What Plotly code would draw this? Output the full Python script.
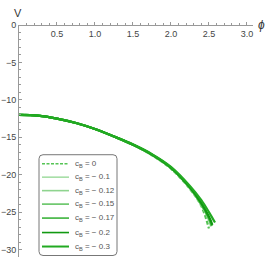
import plotly.graph_objects as go

phi_base = [0.0, 0.25, 0.5, 0.75, 1.0, 1.25, 1.5, 1.75, 2.0, 2.25, 2.4, 2.5]
series = {
    "0":     dict(phi=phi_base, V=[-12.0, -12.1, -12.5, -13.1, -13.9, -14.9, -16.0, -17.4, -19.2, -21.9, -24.2, -27.2]),
    "−0.1":  dict(phi=phi_base + [2.53], V=[-12.0, -12.1, -12.5, -13.1, -13.9, -14.9, -16.0, -17.35, -19.1, -21.8, -24.0, -26.0, -26.9]),
    "−0.12": dict(phi=phi_base + [2.53], V=[-12.0, -12.1, -12.5, -13.1, -13.9, -14.9, -16.0, -17.35, -19.1, -21.8, -24.0, -26.0, -26.9]),
    "−0.15": dict(phi=phi_base + [2.535], V=[-12.0, -12.1, -12.5, -13.1, -13.9, -14.9, -16.0, -17.35, -19.1, -21.75, -23.9, -25.8, -26.8]),
    "−0.17": dict(phi=phi_base + [2.54], V=[-12.0, -12.1, -12.5, -13.1, -13.9, -14.9, -16.0, -17.35, -19.1, -21.75, -23.9, -25.8, -26.8]),
    "−0.2":  dict(phi=phi_base + [2.545], V=[-12.0, -12.1, -12.5, -13.1, -13.9, -14.9, -16.0, -17.3, -19.05, -21.7, -23.8, -25.6, -26.7]),
    "−0.3":  dict(phi=phi_base + [2.58], V=[-12.0, -12.1, -12.5, -13.1, -13.9, -14.9, -15.95, -17.25, -18.95, -21.5, -23.4, -25.0, -26.4]),
}
legend_labels = {
    "0": "0", "−0.1": "− 0.1", "−0.12": "− 0.12", "−0.15": "− 0.15",
    "−0.17": "− 0.17", "−0.2": "− 0.2", "−0.3": "− 0.3",
}
colors = {
    "0": "#55c455", "−0.1": "#a6dea6", "−0.12": "#8fd48f", "−0.15": "#64c464",
    "−0.17": "#3cb33c", "−0.2": "#119911", "−0.3": "#22aa22",
}
x_ticks = [0.5, 1.0, 1.5, 2.0, 2.5, 3.0]
x_ticktext = ["0.5", "1.0", "1.5", "2.0", "2.5", "3.0"]
y_ticks = [0, -5, -10, -15, -20, -25, -30]
y_ticktext = ["0", "−5", "−10", "−15", "−20", "−25", "−30"]

W, H = 267, 267
L, R, T, B = 19, 14, 25, 9.5
pw, ph = W - L - R, H - T - B


def px(x):
    return (x - L) / pw


def py(y):
    return (H - B - y) / ph


fig = go.Figure()
for name, d in series.items():
    fig.add_trace(go.Scatter(
        x=d["phi"], y=d["V"], mode="lines", name=f"c<sub>B</sub> = {legend_labels[name]}",
        showlegend=False,
        line=dict(color=colors[name], width=2.2, shape="spline",
                  dash="4px,2px" if name == "0" else "solid"),
    ))

# legend drawn as layout shapes / annotations
shapes = []
annotations = []
bx0, bx1, by0, by1, r = 39, 117, 155, 256, 4
path = (f"M {px(bx0 + r)},{py(by0)} L {px(bx1 - r)},{py(by0)} "
        f"Q {px(bx1)},{py(by0)} {px(bx1)},{py(by0 + r)} "
        f"L {px(bx1)},{py(by1 - r)} Q {px(bx1)},{py(by1)} {px(bx1 - r)},{py(by1)} "
        f"L {px(bx0 + r)},{py(by1)} Q {px(bx0)},{py(by1)} {px(bx0)},{py(by1 - r)} "
        f"L {px(bx0)},{py(by0 + r)} Q {px(bx0)},{py(by0)} {px(bx0 + r)},{py(by0)} Z")
shapes.append(dict(type="path", xref="paper", yref="paper", path=path,
                   fillcolor="white", line=dict(color="#777777", width=1), layer="above"))
row_y = [164, 177.5, 191, 204.5, 218.5, 233, 247]
for (name, _), yy in zip(series.items(), row_y):
    shapes.append(dict(type="line", xref="paper", yref="paper",
                       x0=px(42), x1=px(69), y0=py(yy), y1=py(yy), layer="above",
                       line=dict(color=colors[name], width=1.6 if name != "−0.3" else 2,
                                 dash="3px,1.5px" if name == "0" else "solid")))
    annotations.append(dict(text=f"c<sub>B</sub> = {legend_labels[name]}",
                            x=px(73), y=py(yy), xref="paper", yref="paper",
                            xanchor="left", yanchor="middle", showarrow=False,
                            font=dict(size=8, color="#555555")))

annotations += [
    dict(text="V", x=px(18), y=py(13), xref="paper", yref="paper", xanchor="center",
         yanchor="middle", showarrow=False, font=dict(size=11, color="#333333")),
    dict(text="<i>ϕ</i>", x=px(261), y=py(25), xref="paper", yref="paper", xanchor="center",
         yanchor="middle", showarrow=False, font=dict(size=12, color="#333333")),
]

axis_col = "#999999"
fig.update_layout(
    width=W, height=H, margin=dict(l=L, r=R, t=T, b=B, autoexpand=False),
    paper_bgcolor="white", plot_bgcolor="white",
    font=dict(family="Liberation Sans, Arial, sans-serif", size=9, color="#444444"),
    showlegend=False,
    xaxis=dict(range=[0, 3.08], side="bottom", anchor="free", position=1,
               showgrid=False, zeroline=False,
               showline=True, linecolor=axis_col, linewidth=1,
               tickvals=x_ticks, ticktext=x_ticktext, ticks="inside",
               ticklen=3, tickcolor=axis_col,
               minor=dict(dtick=0.1, ticks="inside", ticklen=2, tickcolor=axis_col)),
    yaxis=dict(range=[-31, 0], showgrid=False, zeroline=False,
               showline=True, linecolor=axis_col, linewidth=1,
               tickvals=y_ticks, ticktext=y_ticktext, ticks="inside",
               ticklen=3, tickcolor=axis_col,
               minor=dict(dtick=1, ticks="inside", ticklen=2, tickcolor=axis_col)),
    shapes=shapes,
    annotations=annotations,
)
fig.write_html("out.html", config={"displayModeBar": False},
               post_script="document.body.style.margin='0';document.body.style.overflow='hidden';")
